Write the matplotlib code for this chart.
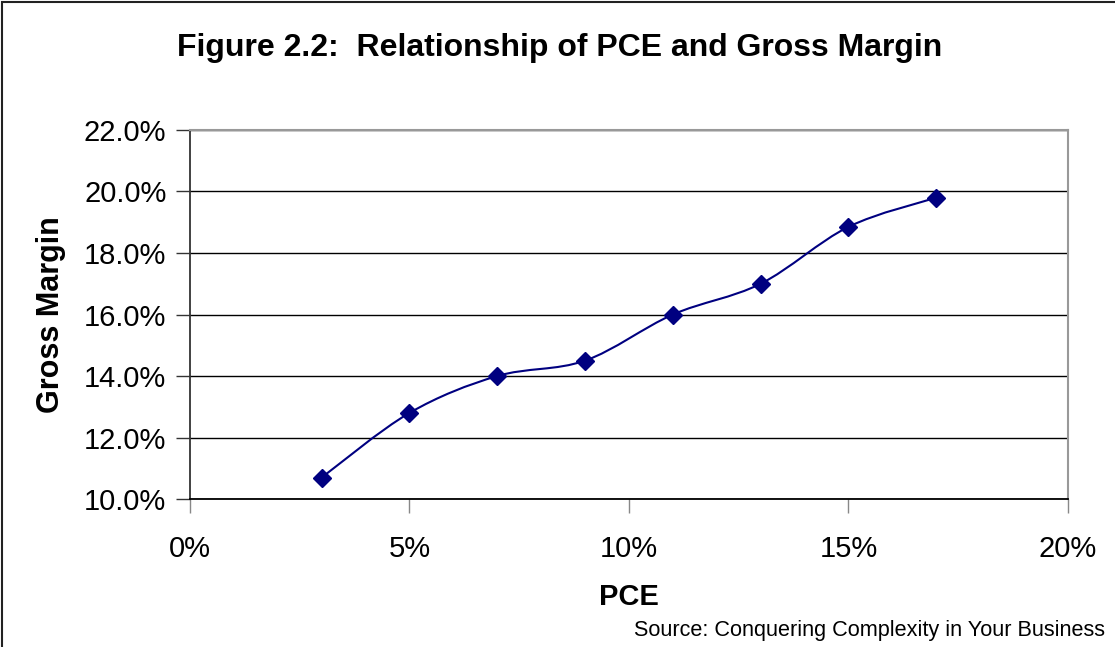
import matplotlib
matplotlib.use('Agg')
import matplotlib.pyplot as plt
from matplotlib.path import Path
from matplotlib.patches import PathPatch, Rectangle
from matplotlib.ticker import FuncFormatter

plt.rcParams['font.family'] = ['Liberation Sans', 'DejaVu Sans']

# data
pce = [0.03, 0.05, 0.07, 0.09, 0.11, 0.13, 0.15, 0.17]
gross_margin = [0.107, 0.128, 0.140, 0.145, 0.160, 0.170, 0.1885, 0.198]
x_ticks = [0.0, 0.05, 0.10, 0.15, 0.20]
y_ticks = [0.10, 0.12, 0.14, 0.16, 0.18, 0.20, 0.22]

NAVY = '#000080'

fig = plt.figure(figsize=(11.15, 6.47), dpi=100)
ax = fig.add_axes([0.1704, 0.2287, 0.9578 - 0.1704, 0.7991 - 0.2287])

# frame round the whole chart (only top/left visible, like the source crop)
fig.patches.append(Rectangle((0.002, -0.05), 1.2, 1.047, transform=fig.transFigure,
                             fill=False, edgecolor='#222222', linewidth=1.5))

# excel-like smoothed line: cubic bezier segments through the points
pts = list(zip(pce, gross_margin))
verts = [pts[0]]
codes = [Path.MOVETO]
n = len(pts)
for i in range(n - 1):
    p0 = pts[i - 1] if i > 0 else pts[i]
    p1 = pts[i]
    p2 = pts[i + 1]
    p3 = pts[i + 2] if i + 2 < n else pts[i + 1]
    c1 = (p1[0] + (p2[0] - p0[0]) / 6, p1[1] + (p2[1] - p0[1]) / 6)
    c2 = (p2[0] - (p3[0] - p1[0]) / 6, p2[1] - (p3[1] - p1[1]) / 6)
    verts += [c1, c2, p2]
    codes += [Path.CURVE4] * 3
ax.add_patch(PathPatch(Path(verts, codes), facecolor='none', edgecolor=NAVY,
                       linewidth=1.5, zorder=3))
ax.plot(pce, gross_margin, linestyle='none', marker='D', markersize=9,
        color=NAVY, zorder=4)

ax.set_xlim(0, 0.20)
ax.set_ylim(0.10, 0.22)
ax.set_xticks(x_ticks)
ax.set_yticks(y_ticks)
ax.xaxis.set_major_formatter(FuncFormatter(lambda v, p: '%d%%' % round(v * 100)))
ax.yaxis.set_major_formatter(FuncFormatter(lambda v, p: '%.1f%%' % (v * 100)))
ax.grid(axis='y', color='black', linewidth=1.0)
ax.set_axisbelow(True)

ax.tick_params(axis='y', direction='out', length=10, width=1, color='#333333',
               labelsize=21, pad=7)
ax.tick_params(axis='x', direction='out', length=10, width=1, color='#888888',
               labelsize=21, pad=16)

for side in ['top', 'right']:
    ax.spines[side].set_color('#999999')
    ax.spines[side].set_linewidth(1.5)
ax.spines['left'].set_color('#333333')
ax.spines['left'].set_linewidth(1.3)
ax.spines['bottom'].set_color('black')
ax.spines['bottom'].set_linewidth(1.3)

fig.text(0.502, 0.926, 'Figure 2.2:  Relationship of PCE and Gross Margin',
         ha='center', va='center', fontsize=23, fontweight='bold')
ax.set_xlabel('PCE', fontsize=21, fontweight='bold', labelpad=14)
ax.set_ylabel('Gross Margin', fontsize=22, fontweight='bold', labelpad=13)
fig.text(0.991, 0.026, 'Source: Conquering Complexity in Your Business',
         ha='right', va='center', fontsize=15.6)

fig.savefig('out.png', dpi=100)
